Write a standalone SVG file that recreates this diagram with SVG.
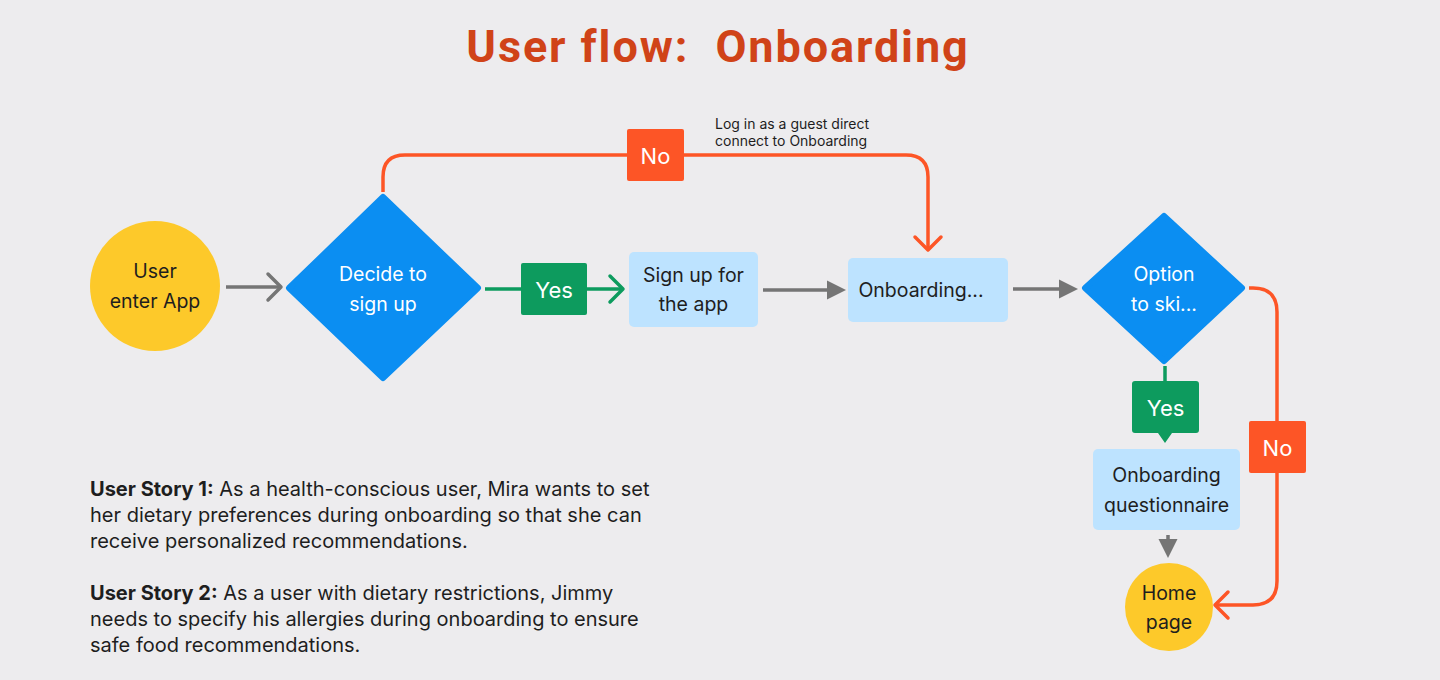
<svg xmlns="http://www.w3.org/2000/svg" width="1440" height="680" viewBox="0 0 1440 680">
<defs>
<style>
.t{font-family:Inter,"Noto Sans","Liberation Sans",sans-serif;font-size:19.5px;fill:#1e1e1e;text-anchor:middle}
.w{fill:#ffffff}
.lbl{font-family:Inter,"Noto Sans","Liberation Sans",sans-serif;font-size:22px;fill:#ffffff;text-anchor:middle}
.note{font-family:Inter,"Noto Sans","Liberation Sans",sans-serif;font-size:14px;fill:#1e1e1e}
.story{font-family:Inter,"Noto Sans","Liberation Sans",sans-serif;font-size:20px;fill:#1e1e1e}
.dia{fill:#0b8ef2;stroke:#0b8ef2;stroke-width:6;stroke-linejoin:round}
.box{fill:#bde3ff}
.term{fill:#fdc92a}
.cg{fill:none;stroke:#757575;stroke-width:3.5}
.cgr{fill:none;stroke:#0d9b5e;stroke-width:3.5}
.co{fill:none;stroke:#fd5526;stroke-width:3.5}
</style>
<marker id="openGray" viewBox="-16 -16 20 32" markerWidth="20" markerHeight="32" refX="0" refY="0" markerUnits="userSpaceOnUse" orient="auto">
<path d="M-13,-13 L0,0 L-13,13" fill="none" stroke="#757575" stroke-width="3.5" stroke-linecap="round" stroke-linejoin="round"/>
</marker>
<marker id="openGreen" viewBox="-16 -16 20 32" markerWidth="20" markerHeight="32" refX="0" refY="0" markerUnits="userSpaceOnUse" orient="auto">
<path d="M-13,-13 L0,0 L-13,13" fill="none" stroke="#0d9b5e" stroke-width="3.5" stroke-linecap="round" stroke-linejoin="round"/>
</marker>
<marker id="openOrange" viewBox="-16 -16 20 32" markerWidth="20" markerHeight="32" refX="0" refY="0" markerUnits="userSpaceOnUse" orient="auto">
<path d="M-13,-13 L0,0 L-13,13" fill="none" stroke="#fd5526" stroke-width="3.5" stroke-linecap="round" stroke-linejoin="round"/>
</marker>
<marker id="triGray" viewBox="0 -10 20 20" markerWidth="20" markerHeight="20" refX="1" refY="0" markerUnits="userSpaceOnUse" orient="auto">
<path d="M0,-9.5 L19,0 L0,9.5 Z" fill="#757575"/>
</marker>
</defs>
<rect width="1440" height="680" fill="#edecee"/>
<text x="718" y="62" font-family="Roboto,'Liberation Sans',sans-serif" font-weight="bold" font-size="45" letter-spacing="1.9" fill="#d04318" text-anchor="middle" xml:space="preserve">User flow:  Onboarding</text>

<g id="connectors">
<path class="cg" d="M226,287 H281" marker-end="url(#openGray)"/>
<path class="cgr" d="M485,289 H623" marker-end="url(#openGreen)"/>
<path class="co" d="M383,192 V177 Q383,155 405,155 H906 Q928,155 928,177 V250" marker-end="url(#openOrange)"/>
<path class="cg" d="M763,290 H828" marker-end="url(#triGray)"/>
<path class="cg" d="M1013,289 H1060" marker-end="url(#triGray)"/>
<path class="cgr" d="M1165,366 V382"/>
<path class="co" d="M1249,288 H1253 Q1277,288 1277,312 V581 Q1277,605 1253,605 H1215" marker-end="url(#openOrange)"/>
<path class="cg" d="M1168,535 V540" marker-end="url(#triGray)"/>
</g>

<g id="label-no-1">
<rect x="627" y="129" width="57" height="52" rx="2" fill="#fd5526"/>
<text class="lbl" x="655.5" y="164">No</text>
</g>
<g id="label-yes-1">
<rect x="521" y="263" width="66" height="52" rx="2" fill="#0d9b5e"/>
<text class="lbl" x="554" y="298">Yes</text>
</g>
<g id="label-yes-2">
<path d="M1135,381 H1196 Q1199,381 1199,384 V430 Q1199,433 1196,433 H1172 L1165,443 L1158,433 H1135 Q1132,433 1132,430 V384 Q1132,381 1135,381 Z" fill="#0d9b5e"/>
<text class="lbl" x="1165.5" y="416">Yes</text>
</g>
<g id="label-no-2">
<rect x="1249" y="421" width="57" height="52" rx="2" fill="#fd5526"/>
<text class="lbl" x="1277.5" y="456">No</text>
</g>
<g id="note-guest">
<text class="note" x="715" y="129">Log in as a guest direct</text>
<text class="note" x="715" y="146">connect to Onboarding</text>
</g>

<g id="node-user">
<circle cx="155" cy="286" r="65" class="term"/>
<text class="t" x="155" y="278">User</text>
<text class="t" x="155" y="308">enter App</text>
</g>
<g id="node-decide">
<polygon class="dia" points="383,197 478,288 383,378 289,288"/>
<text class="t w" x="383" y="281">Decide to</text>
<text class="t w" x="383" y="311">sign up</text>
</g>
<g id="node-signup">
<rect x="629" y="252" width="129" height="75" rx="5" class="box"/>
<text class="t" x="693.5" y="282">Sign up for</text>
<text class="t" x="693.5" y="311">the app</text>
</g>
<g id="node-onboarding">
<rect x="848" y="258" width="160" height="64" rx="5" class="box"/>
<text class="t" x="921" y="297">Onboarding...</text>
</g>
<g id="node-option">
<polygon class="dia" points="1164,216 1242,288 1164,361 1085,288"/>
<text class="t w" x="1164" y="281">Option</text>
<text class="t w" x="1164" y="311">to ski...</text>
</g>
<g id="node-questionnaire">
<rect x="1093" y="449" width="147" height="81" rx="5" class="box"/>
<text class="t" x="1166.5" y="482">Onboarding</text>
<text class="t" x="1166.5" y="512">questionnaire</text>
</g>
<g id="node-home">
<circle cx="1169" cy="607" r="44" class="term"/>
<text class="t" x="1169" y="600">Home</text>
<text class="t" x="1169" y="629">page</text>
</g>

<g id="user-stories">
<text class="story" x="90" y="496"><tspan font-weight="bold">User Story 1:</tspan> As a health-conscious user, Mira wants to set</text>
<text class="story" x="90" y="522">her dietary preferences during onboarding so that she can</text>
<text class="story" x="90" y="548">receive personalized recommendations.</text>
<text class="story" x="90" y="600"><tspan font-weight="bold">User Story 2:</tspan> As a user with dietary restrictions, Jimmy</text>
<text class="story" x="90" y="626">needs to specify his allergies during onboarding to ensure</text>
<text class="story" x="90" y="652">safe food recommendations.</text>
</g>
</svg>
